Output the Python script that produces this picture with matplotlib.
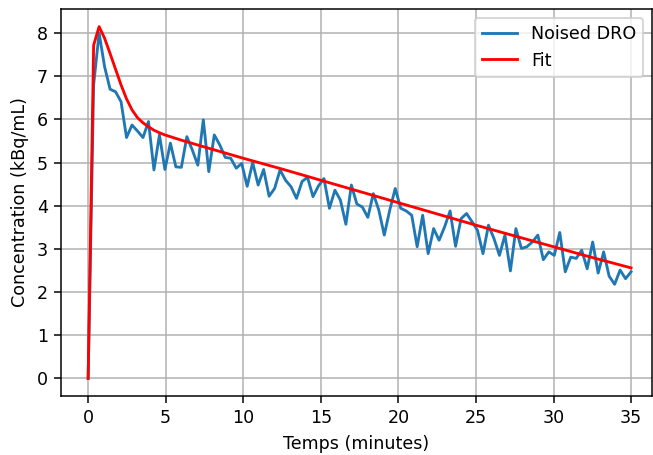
import matplotlib
matplotlib.use("Agg")
import matplotlib.pyplot as plt
import numpy as np

# noised DRO samples, 100 points between 0 and 35 min
temps = np.linspace(0, 35, 100)
noised = [0.0, 6.8, 8.0, 7.22, 6.70, 6.64, 6.41, 5.58, 5.87, 5.73,
          5.58, 5.95, 4.83, 5.64, 4.84, 5.45, 4.90, 4.89, 5.60, 5.29,
          4.94, 5.99, 4.79, 5.64, 5.41, 5.12, 5.10, 4.87, 4.98, 4.45,
          5.00, 4.48, 4.84, 4.22, 4.40, 4.83, 4.59, 4.44, 4.17, 4.56,
          4.66, 4.21, 4.46, 4.63, 3.94, 4.36, 4.13, 3.57, 4.48, 4.04,
          3.97, 3.73, 4.28, 3.90, 3.32, 3.90, 4.40, 3.94, 3.88, 3.78,
          3.05, 3.78, 2.89, 3.47, 3.20, 3.51, 3.88, 3.06, 3.70, 3.82,
          3.63, 3.43, 2.89, 3.55, 3.24, 2.85, 3.32, 2.49, 3.47, 3.01,
          3.05, 3.16, 3.32, 2.75, 2.93, 2.85, 3.38, 2.47, 2.81, 2.78,
          2.97, 2.54, 3.16, 2.44, 2.93, 2.37, 2.18, 2.51, 2.31, 2.47]

# fitted curve
fit_t = [0.0, 0.354, 0.707, 1.06, 1.41, 1.77, 2.12, 2.47, 2.83, 3.18,
         3.54, 3.89, 4.24, 4.6, 4.95, 5.3, 6.0, 7.5, 10.0, 12.5,
         15.0, 17.5, 20.0, 22.5, 25.0, 27.5, 30.0, 32.5, 35.0]
fit_c = [0.0, 7.72, 8.15, 7.88, 7.53, 7.16, 6.80, 6.48, 6.22, 6.04,
         5.92, 5.83, 5.75, 5.69, 5.64, 5.60, 5.52, 5.36, 5.10, 4.85,
         4.59, 4.33, 4.07, 3.81, 3.55, 3.30, 3.05, 2.80, 2.56]

plt.rcParams["font.size"] = 9.3

dpi = 136
fig = plt.figure(figsize=(653/dpi, 455/dpi), dpi=dpi)
ax = fig.add_axes([61/653, 1 - 396/455, (652-61)/653, (396-9)/455])

ax.plot(temps, noised, color="#1f77b4", label="Noised DRO")
ax.plot(fit_t, fit_c, color="red", label="Fit")
ax.set_xlim(-1.75, 36.35)
ax.set_xlabel("Temps (minutes)")
ax.set_ylabel("Concentration (kBq/mL)")
ax.grid(True)
ax.legend(loc="upper right")

fig.savefig("out.png", dpi=dpi)
